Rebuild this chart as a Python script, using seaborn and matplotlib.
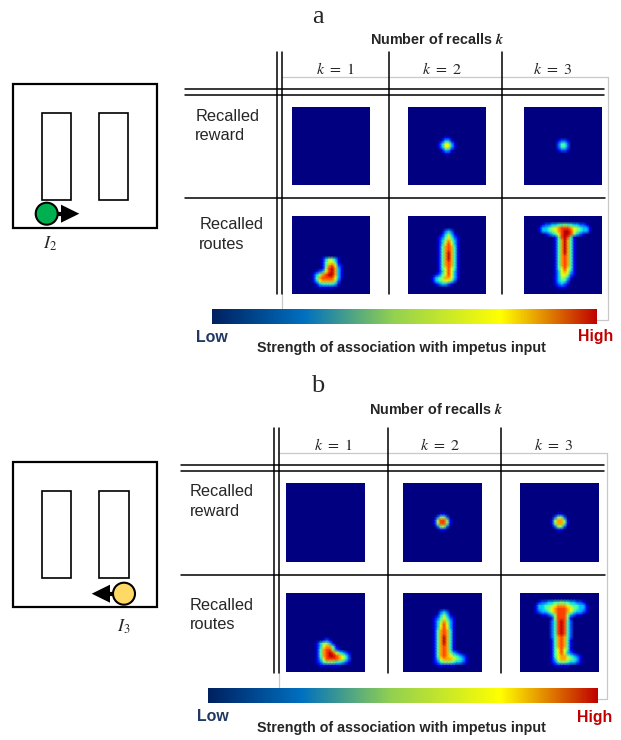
import matplotlib
matplotlib.use("Agg")
import matplotlib.pyplot as plt
from matplotlib.cm import ScalarMappable
from matplotlib.colors import LinearSegmentedColormap
from matplotlib.patches import Circle, Rectangle
import numpy as np
import seaborn as sns

GRID = 26
k_labels = ["$k\\ =\\ 1$", "$k\\ =\\ 2$", "$k\\ =\\ 3$"]
row_labels = ["Recalled\nreward", "Recalled\nroutes"]
bar_stops = [0, 0.24, 0.47, 0.75, 1]
bar_colors = ["#002060", "#0070c0", "#92d050", "#ffff00", "#c00000"]

# association strength on a 0-9 scale, read by eye: row -> (first column, values)
reward_a1 = {}
reward_a2 = {10: (12, "11"), 11: (11, "1331"), 12: (10, "136631"), 13: (10, "136631"),
             14: (11, "1331"), 15: (12, "11")}
reward_a3 = {11: (11, "1221"), 12: (11, "2442"), 13: (11, "2442"), 14: (11, "1221")}
route_a1 = {14: (10, "135531"), 15: (10, "146641"), 16: (10, "1478621"),
            17: (10, "1589731"), 18: (8, "123689731"), 19: (7, "1357899731"),
            20: (7, "1478888631"), 21: (7, "136777752"), 22: (8, "13444431"),
            23: (9, "11111")}
route_a2 = {5: (12, "232"), 6: (11, "13531"), 7: (10, "1246421"), 8: (10, "1357531"),
            9: (10, "1368631"), 10: (10, "1478741"), 11: (10, "1478741"), 12: (10, "1479741"),
            13: (10, "1479741"), 14: (10, "1479741"), 15: (10, "1478741"), 16: (10, "1478741"),
            17: (10, "1468641"), 18: (10, "1368631"), 19: (9, "12468631"),
            20: (8, "134577631"), 21: (8, "13456642"), 22: (9, "123321")}
route_a3 = {3: (6, "122334454433221"), 4: (5, "13345678887654331"),
            5: (5, "13345678998654331"), 6: (7, "1234689985321"),
            7: (10, "1489841"), 8: (10, "1479741"), 9: (10, "1479741"), 10: (10, "1479741"),
            11: (10, "1479741"), 12: (10, "1479741"), 13: (10, "1478741"), 14: (10, "1478741"),
            15: (10, "1478741"), 16: (10, "1478741"), 17: (10, "1468641"), 18: (10, "1367631"),
            19: (10, "1366521"), 20: (10, "135531"), 21: (10, "13442"), 22: (10, "12321"),
            23: (11, "111")}

reward_b1 = {}
reward_b2 = {10: (12, "11"), 11: (11, "2552"), 12: (10, "158851"), 13: (10, "158851"),
             14: (11, "2552"), 15: (12, "11")}
reward_b3 = {10: (12, "11"), 11: (11, "2552"), 12: (10, "157751"), 13: (10, "157751"),
             14: (11, "2552"), 15: (12, "11")}
route_b1 = {15: (12, "121"), 16: (10, "135531"), 17: (10, "1367741"), 18: (10, "14788521"),
            19: (10, "14789864321"), 20: (10, "14789987642"), 21: (10, "13688887642"),
            22: (10, "12455544321"), 23: (11, "1111111")}
route_b2 = {6: (12, "232"), 7: (11, "13531"), 8: (10, "1246421"), 9: (10, "1357531"),
            10: (10, "1368631"), 11: (10, "1368631"), 12: (10, "1478741"), 13: (10, "1478741"),
            14: (10, "1479741"), 15: (10, "1479741"), 16: (10, "1479741"), 17: (10, "1478741"),
            18: (10, "1478741"), 19: (10, "147875321"), 20: (10, "14787654321"),
            21: (10, "13677765431"), 22: (10, "12455543321"), 23: (11, "111111")}
route_b3 = {3: (6, "122334454433221"), 4: (5, "13344567776544331"),
            5: (5, "13345678887654331"), 6: (5, "12334678887643321"),
            7: (7, "1123588853211"), 8: (10, "1588851"), 9: (10, "2489842"),
            10: (10, "2489842"), 11: (10, "2489842"), 12: (10, "2489842"), 13: (10, "2489842"),
            14: (10, "2478742"), 15: (10, "1478741"), 16: (10, "1478741"), 17: (10, "1478741"),
            18: (10, "1468641"), 19: (10, "14686321"), 20: (10, "1467754321"),
            21: (10, "1367765431"), 22: (10, "1245543321"), 23: (11, "11111")}


def to_grid(rows):
    values = np.zeros((GRID, GRID))
    for row, (col, digits) in rows.items():
        values[row, col:col + len(digits)] = [int(d) for d in digits]
    return values


def px_axes(fig, left, top, right, bottom):
    return fig.add_axes([left / 621, 1 - bottom / 740, (right - left) / 621, (bottom - top) / 740])


sns.set_theme(style="white")
plt.rcParams["font.family"] = ["Liberation Sans", "DejaVu Sans"]
plt.rcParams["mathtext.fontset"] = "stix"

fig = plt.figure(figsize=(6.21, 7.40), dpi=100)
canvas = fig.add_axes([0, 0, 1, 1])
canvas.set_xlim(0, 621)
canvas.set_ylim(740, 0)
canvas.axis("off")

bar_cmap = LinearSegmentedColormap.from_list("assoc", list(zip(bar_stops, bar_colors)), N=512)


def draw_maze(box, walls, circle_x, circle_y, color, tip_x, base_x, label, label_xy):
    x0, y0, x1, y1 = box
    canvas.add_patch(Rectangle((x0, y0), x1 - x0, y1 - y0, fill=False, ec="black", lw=1.6))
    for wx0, wx1 in walls[0]:
        canvas.add_patch(Rectangle((wx0, walls[1]), wx1 - wx0, walls[2] - walls[1], fill=False, ec="black", lw=1.2))
    canvas.plot([circle_x, base_x], [circle_y, circle_y], color="black", lw=3, solid_capstyle="butt")
    canvas.fill([base_x, tip_x, base_x], [circle_y - 9, circle_y, circle_y + 9], color="black", lw=0)
    canvas.add_patch(Circle((circle_x, circle_y), 11, fc=color, ec="black", lw=1.5, zorder=3))
    canvas.text(*label_xy, label, fontsize=13, ha="center", va="center")


def draw_block(letter, letter_y, title_xy, k_xs, k_y, v_lines, v_top, v_bottom, h_double, h_single,
               h_left, box_left, box_top, box_right, box_bottom, row_text, col_lefts, row_tops,
               size, panels, bar, low_xy, high_xy, note_y):
    grey = "#c8c8c8"
    canvas.plot([box_left, box_right, box_right, bar[1]], [box_top, box_top, box_bottom, box_bottom], color=grey, lw=0.9)
    canvas.plot([box_left, box_left], [v_bottom, bar[2]], color=grey, lw=0.9)
    for x in v_lines:
        canvas.plot([x, x], [v_top, v_bottom], color="black", lw=1.1)
    for y in h_double:
        canvas.plot([h_left, 604], [y, y], color="black", lw=1.1)
    canvas.plot([h_left, 605], [h_single, h_single], color="black", lw=1.1)

    canvas.text(317.7, letter_y, letter, family="Liberation Serif", fontsize=19, ha="center", va="center")
    canvas.text(*title_xy, r"Number of recalls $\mathbfit{k}$", fontsize=10.4, fontweight="bold", ha="center", va="center")
    for x, label in zip(k_xs, k_labels):
        canvas.text(x, k_y, label, fontsize=11.5, ha="center", va="center")
    for (x, y), label in zip(row_text, row_labels):
        canvas.text(x, y, label, fontsize=11.8, ha="left", va="center", linespacing=1.36)

    for r, top in enumerate(row_tops):
        for c, left in enumerate(col_lefts):
            ax = px_axes(fig, left, top, left + size, top + size)
            sns.heatmap(to_grid(panels[r][c]), ax=ax, cmap="jet", vmin=0, vmax=9.5, cbar=False,
                        xticklabels=False, yticklabels=False, shading="gouraud")
            ax.set_xlim(0, GRID - 1)
            ax.set_ylim(GRID - 1, 0)

    cax = px_axes(fig, bar[0], bar[2], bar[1], bar[3])
    cb = fig.colorbar(ScalarMappable(cmap=bar_cmap), cax=cax, orientation="horizontal")
    cb.set_ticks([])
    cb.outline.set_visible(False)
    canvas.text(*low_xy, "Low", color="#1f3864", fontsize=11.4, fontweight="bold", ha="left", va="center")
    canvas.text(*high_xy, "High", color="#c00000", fontsize=11.4, fontweight="bold", ha="left", va="center")
    canvas.text(401.7, note_y, "Strength of association with impetus input", fontsize=10.3, fontweight="bold", ha="center", va="center")


draw_maze((12.7, 84.3, 156.7, 228.3), ([(41.7, 70.7), (99, 128)], 113, 199.7),
          46.7, 213.7, "#00b050", 79.3, 61, "$I_2$", (50, 244))
draw_maze((12.7, 462.3, 157.3, 607.3), ([(41.7, 71), (99, 128.7)], 491.3, 578.3),
          124, 593.7, "#ffd966", 91.7, 110, "$I_3$", (124, 627))

draw_block("a", 17, (436.7, 39.7), (335, 441.7, 553), 69.3, (277.3, 282, 389.3, 501.7), 52, 294,
           (88.7, 95), 198.3, 185, 282, 77.3, 607.7, 320,
           ((195.3, 126), (199.3, 234.5)), (291.7, 408, 524.3), (106.7, 215.7), 78,
           [[reward_a1, reward_a2, reward_a3], [route_a1, route_a2, route_a3]],
           (212, 597.3, 309.3, 324), (195.7, 338), (577.7, 337), 348)
draw_block("b", 385.7, (436, 409.3), (333.3, 440, 553.3), 445.3, (274, 279, 387.7, 501), 428.3, 672.7,
           (465, 471), 575, 181, 279.3, 453.3, 606.7, 699.3,
           ((190, 501.5), (190, 615)), (285.7, 403, 520.3), (482.7, 593), 79,
           [[reward_b1, reward_b2, reward_b3], [route_b1, route_b2, route_b3]],
           (208.3, 597.7, 688.3, 702.7), (196.7, 716.7), (577.3, 717.7), 728.3)

fig.savefig("out.png", dpi=100)
